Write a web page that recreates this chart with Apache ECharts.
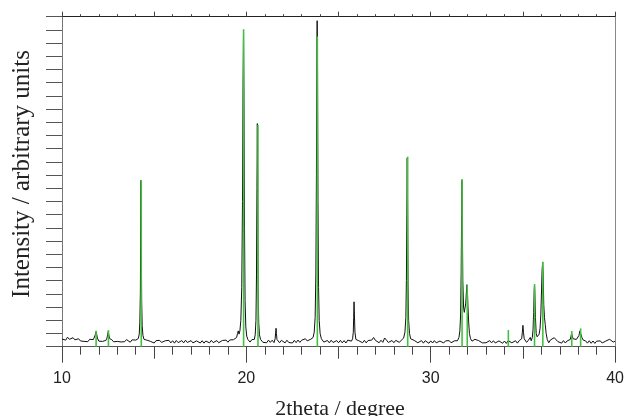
<!DOCTYPE html>
<html>
<head>
<meta charset="utf-8">
<script src="https://cdn.jsdelivr.net/npm/echarts@6/dist/echarts.min.js"></script>
<style>
html,body{margin:0;padding:0;background:#fff;}
#chart{width:627px;height:416px;}
</style>
</head>
<body>
<div id="chart"></div>
<script>
// ---- data ----
const xTickLabels = ['10', '20', '30', '40'];
const xTitle = '2theta / degree';
const yTitle = 'Intensity / arbitrary units';

// measured baseline of the black trace, every 0.1 degree from 10.0 to 40.0
const baseStart = 10.0;
const baseStep = 0.1;
const baseline = [
  0.58,0.70,0.50,0.72,0.56,0.48,0.68,0.52,0.44,0.60,
  0.44,0.58,0.40,0.55,0.38,0.56,0.42,0.54,0.50,0.50,
  0.42,0.56,0.40,0.54,0.56,0.47,0.38,0.53,0.37,0.52,
  0.40,0.55,0.36,0.51,0.38,0.54,0.40,0.34,0.52,0.38,
  0.50,0.38,0.53,0.50,0.55,0.60,0.50,0.42,0.40,0.32,
  0.28,0.46,0.31,0.48,0.32,0.27,0.45,0.30,0.48,0.29,
  0.45,0.27,0.47,0.31,0.26,0.46,0.29,0.49,0.32,0.27,
  0.46,0.29,0.25,0.44,0.48,0.28,0.45,0.27,0.43,0.47,
  0.29,0.48,0.31,0.27,0.46,0.30,0.26,0.47,0.32,0.50,
  0.34,0.51,0.36,0.53,0.38,0.55,0.60,0.80,1.00,0.90,
  0.60,0.45,0.35,0.54,0.60,0.70,0.80,0.60,0.45,0.33,
  0.48,0.30,0.50,0.33,0.49,0.31,0.90,0.45,0.30,0.48,
  0.33,0.29,0.49,0.32,0.47,0.28,0.48,0.31,0.50,0.33,
  0.49,0.42,0.60,0.44,0.50,0.57,0.60,0.80,0.90,0.80,
  0.60,0.48,0.35,0.30,0.47,0.29,0.49,0.32,0.27,0.46,
  0.30,0.48,0.29,0.46,0.28,0.50,0.50,0.60,0.70,0.80,
  0.60,0.45,0.33,0.30,0.48,0.29,0.47,0.32,0.50,0.70,
  0.48,0.47,0.30,0.49,0.33,0.66,0.50,0.32,0.29,0.47,
  0.30,0.48,0.40,0.33,0.49,0.42,0.55,0.65,0.80,1.00,
  0.60,0.48,0.35,0.30,0.29,0.46,0.27,0.45,0.30,0.26,
  0.44,0.28,0.46,0.29,0.26,0.43,0.47,0.28,0.44,0.30,
  0.46,0.30,0.27,0.45,0.36,0.45,0.55,0.80,1.00,1.50,
  1.00,0.60,0.45,0.33,0.56,0.62,0.46,0.32,0.29,0.42,
  0.30,0.27,0.46,0.29,0.45,0.28,0.25,0.44,0.29,0.26,
  0.43,0.25,0.46,0.40,0.30,0.27,0.45,0.27,0.46,0.40,
  0.60,0.45,0.33,0.50,0.70,1.00,1.50,0.70,0.80,1.00,
  1.50,0.80,0.50,0.35,0.30,0.52,0.50,0.68,0.55,0.38,
  0.45,0.27,0.46,0.28,0.44,0.36,0.55,0.60,0.50,0.42,
  0.45,0.60,0.55,0.35,0.44,0.27,0.45,0.26,0.43,0.25,
  0.42,0.27,0.44,0.28,0.26,0.43,0.34,0.56,0.60,0.35,
  0.42
];

// measured peak profiles of the black trace, [2theta, intensity]
const peak11_85 = [[11.72,0.5],[11.78,0.65],[11.82,0.95],[11.85,1.15],[11.88,0.95],[11.92,0.65],[11.98,0.5]];
const peak12_5 = [[12.38,0.48],[12.44,0.65],[12.48,0.95],[12.51,1.15],[12.54,0.9],[12.58,0.62],[12.64,0.48]];
const peak14_3 = [[14.08,0.48],[14.14,0.62],[14.19,0.95],[14.22,1.8],[14.25,4.0],[14.27,9.0],[14.285,12.6],[14.30,8.5],[14.32,3.5],[14.35,1.6],[14.39,0.85],[14.45,0.55],[14.51,0.42]];
const peak19_85 = [[19.40,0.5],[19.47,0.7],[19.52,1.0],[19.56,1.2],[19.60,0.95],[19.65,1.2],[19.70,2.0],[19.75,4.5],[19.79,11],[19.82,20],[19.845,23.8],[19.87,19],[19.90,9],[19.93,3.5],[19.97,1.5],[20.02,0.8],[20.08,0.55],[20.14,0.45]];
const peak20_6 = [[20.36,0.42],[20.43,0.55],[20.48,0.9],[20.52,2.0],[20.55,5.5],[20.575,12],[20.595,16.9],[20.615,11],[20.64,4.5],[20.67,1.8],[20.71,0.9],[20.77,0.55],[20.84,0.42]];
const peak21_6 = [[21.52,0.42],[21.56,0.6],[21.59,1.1],[21.61,1.4],[21.63,1.0],[21.66,0.55],[21.70,0.42]];
const peak23_85 = [[23.55,0.5],[23.62,0.7],[23.68,1.1],[23.73,2.2],[23.77,5.5],[23.80,13],[23.825,22],[23.84,24.7],[23.86,21],[23.885,11],[23.915,4.5],[23.95,2.0],[24.00,1.0],[24.07,0.6],[24.15,0.45]];
const peak25_85 = [[25.70,0.42],[25.76,0.6],[25.80,1.1],[25.82,2.2],[25.84,3.4],[25.86,2.4],[25.89,1.1],[25.94,0.55],[26.00,0.42]];
const peak28_75 = [[28.43,0.45],[28.53,0.65],[28.60,1.1],[28.65,2.2],[28.68,5.0],[28.705,10],[28.725,14.3],[28.745,10.5],[28.77,4.8],[28.80,2.0],[28.85,1.0],[28.91,0.6],[28.98,0.45]];
const peak31_7 = [[31.45,0.45],[31.53,0.7],[31.58,1.2],[31.62,2.4],[31.65,5.5],[31.675,10],[31.695,12.6],[31.715,9.5],[31.74,5.0],[31.78,3.0],[31.82,2.6],[31.86,2.7],[31.90,3.3],[31.94,4.3],[31.965,4.7],[31.99,4.2],[32.02,3.0],[32.06,1.8],[32.10,1.0],[32.16,0.6],[32.24,0.42]];
const peak35_0 = [[34.88,0.42],[34.93,0.6],[34.97,1.1],[35.00,1.62],[35.03,1.1],[35.07,0.6],[35.12,0.45]];
const peak35_9 = [[35.45,0.45],[35.51,0.7],[35.55,1.3],[35.58,2.6],[35.61,4.2],[35.63,4.7],[35.65,4.0],[35.68,2.2],[35.72,1.0],[35.77,0.75],[35.82,0.8],[35.88,0.95],[35.93,1.4],[35.97,2.4],[36.01,4.3],[36.04,5.8],[36.07,6.4],[36.10,5.5],[36.13,3.2],[36.17,2.2],[36.21,1.7],[36.26,1.0],[36.32,0.55],[36.38,0.42]];
const peak37_9 = [[37.50,0.42],[37.57,0.55],[37.61,0.8],[37.64,1.0],[37.67,0.85],[37.72,0.6],[37.80,0.5],[37.90,0.55],[37.98,0.6],[38.04,0.85],[38.09,1.2],[38.12,1.35],[38.15,1.1],[38.20,0.7],[38.27,0.5],[38.35,0.4]];
const peaks = [peak11_85, peak12_5, peak14_3, peak19_85, peak20_6, peak21_6, peak23_85, peak25_85, peak28_75, peak31_7, peak35_0, peak35_9, peak37_9];

// green reference lines
const stickPos =     [11.85, 12.52, 14.30, 19.85, 20.63, 23.85, 28.75, 31.70, 31.98, 34.21, 35.63, 36.08, 37.65, 38.13];
const stickHeights = [1.20,  1.26,  12.6,  24.05, 16.8,  23.5,  14.4,  12.7,  4.67,  1.26,  4.73,  6.44,  1.19,  1.39];

// ---- assemble series from the arrays ----
const ranges = peaks.map(p => [p[0][0], p[p.length - 1][0]]);
const blackData = [];
baseline.forEach((v, i) => {
  const x = +(baseStart + i * baseStep).toFixed(2);
  if (!ranges.some(r => x >= r[0] && x <= r[1])) blackData.push([x, v]);
});
peaks.forEach(p => p.forEach(pt => blackData.push(pt)));
blackData.sort((a, b) => a[0] - b[0]);
const greenData = stickPos.map((x, i) => [x, stickHeights[i]]);

const chart = echarts.init(document.getElementById('chart'), null, {renderer: 'canvas'});
const axisColor = '#444';
chart.setOption({
  animation: false,
  backgroundColor: '#fff',
  grid: {left: 62, right: 9, top: 16.7, bottom: 69.3, containLabel: false},
  xAxis: [
    {
      type: 'value', min: 10, max: 40, interval: 10, position: 'bottom',
      axisLine: {show: true, onZero: false, lineStyle: {color: '#555', width: 1}},
      axisTick: {show: true, length: 16, lineStyle: {color: axisColor}},
      minorTick: {show: true, splitNumber: 10, length: 8, lineStyle: {color: axisColor}},
      axisLabel: {show: true, margin: 24, fontSize: 16, color: '#222', fontFamily: '"Liberation Sans", Arial, sans-serif',
        formatter: v => xTickLabels[xTickLabels.indexOf(String(v))] || ''},
      splitLine: {show: false}, minorSplitLine: {show: false}
    },
    {
      type: 'value', min: 10, max: 40, interval: 5, position: 'bottom',
      axisLine: {show: false, onZero: false},
      axisTick: {show: true, length: 12, lineStyle: {color: axisColor}},
      axisLabel: {show: false}, splitLine: {show: false}
    },
    {
      type: 'value', min: 10, max: 40, interval: 5, position: 'top',
      axisLine: {show: true, onZero: false, lineStyle: {color: '#222', width: 1}},
      axisTick: {show: true, length: 5, lineStyle: {color: axisColor}},
      minorTick: {show: true, splitNumber: 5, length: 2.5, lineStyle: {color: axisColor}},
      axisLabel: {show: false}, splitLine: {show: false}
    }
  ],
  yAxis: [
    {
      type: 'value', min: 0, max: 25, interval: 1, position: 'left',
      axisLine: {show: true, onZero: false, lineStyle: {color: '#777', width: 1}},
      axisTick: {show: true, length: 16, lineStyle: {color: '#555'}},
      axisLabel: {show: false}, splitLine: {show: false}
    },
    {
      type: 'value', min: 0, max: 25, position: 'right',
      axisLine: {show: true, onZero: false, lineStyle: {color: '#888', width: 1}},
      axisTick: {show: false}, axisLabel: {show: false}, splitLine: {show: false}
    }
  ],
  series: [
    {
      type: 'line', xAxisIndex: 0, yAxisIndex: 0, data: blackData,
      showSymbol: false, symbol: 'none', smooth: false,
      lineStyle: {color: '#111', width: 1}, z: 2
    },
    {
      type: 'bar', xAxisIndex: 0, yAxisIndex: 0, data: greenData,
      barWidth: 1.6, itemStyle: {color: '#44c040'}, z: 3
    }
  ],
  graphic: [
    {type: 'text', x: 340, y: 409, style: {text: xTitle, font: '22px "Liberation Serif", "Times New Roman", serif', fill: '#222', align: 'center', verticalAlign: 'middle', textAlign: 'center', textVerticalAlign: 'middle'}},
    {type: 'text', x: 22, y: 174, rotation: Math.PI / 2, style: {text: yTitle, font: '25px "Liberation Serif", "Times New Roman", serif', fill: '#222', align: 'center', verticalAlign: 'middle', textAlign: 'center', textVerticalAlign: 'middle'}}
  ]
});
</script>
</body>
</html>
